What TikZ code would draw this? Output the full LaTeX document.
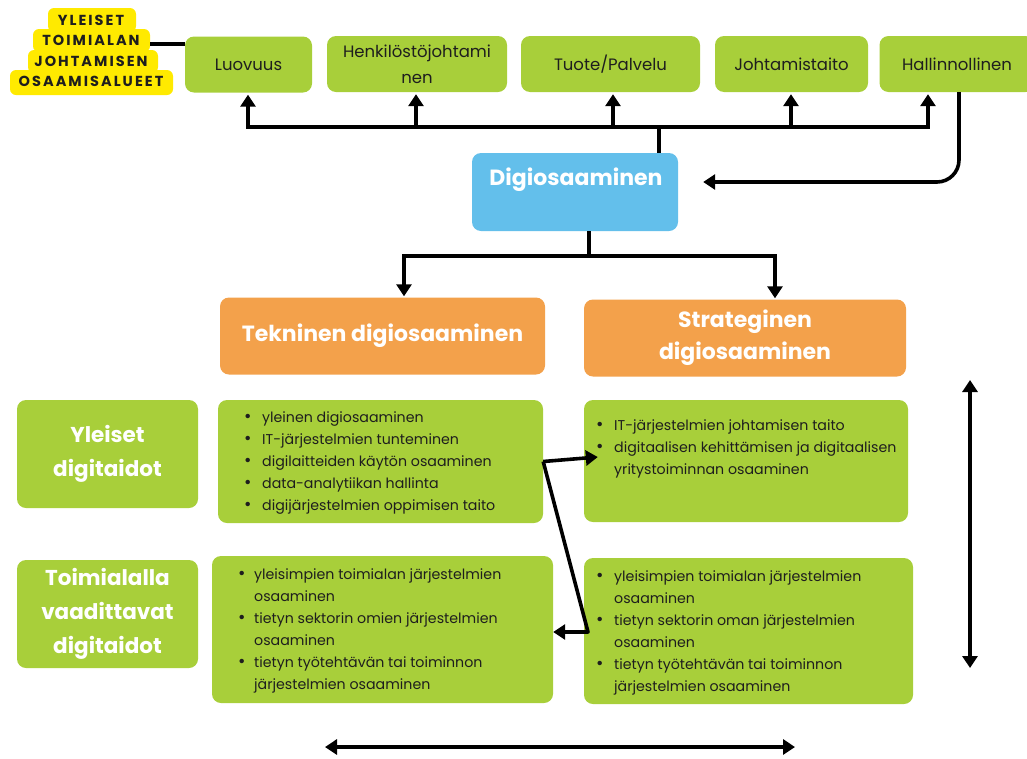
\documentclass[tikz,border=0pt]{standalone}
\usepackage{fontspec}
\setmainfont{Poppins}
\usetikzlibrary{arrows.meta}
\definecolor{lgreen}{HTML}{A8CF3A}
\definecolor{lblue}{HTML}{63BFEB}
\definecolor{lorange}{HTML}{F3A14B}
\definecolor{lyellow}{HTML}{FFEA00}
\definecolor{ink}{HTML}{1E1E1E}
\newcommand{\bul}{\raisebox{-0.8pt}{\fontsize{18}{22}\selectfont\textbullet}}
\begin{document}
\begin{tikzpicture}[x=1pt,y=-1pt,
 box/.style={rounded corners=9pt, inner sep=0pt, draw=none},
 gbox/.style={box, fill=lgreen},
 topbox/.style={gbox, text=ink, font=\fontsize{16.5}{26}\selectfont, align=center, minimum height=56pt},
 head/.style={box, fill=lorange, text=white, font=\bfseries\fontsize{22}{32}\selectfont, align=center, minimum height=77pt},
 side/.style={gbox, text=white, font=\bfseries\fontsize{21.5}{34}\selectfont, align=center, minimum width=181pt, minimum height=108pt},
 body/.style={inner sep=0pt, anchor=base west, text=ink, font=\fontsize{14.2}{22}\selectfont},
 ln/.style={line width=3.6pt},
 arr/.style={ln, -{Triangle[width=15pt,length=12pt]}},
 dbl/.style={ln, {Triangle[width=15pt,length=12pt]}-{Triangle[width=15pt,length=12pt]}},
 hl/.style={fill=lyellow, rounded corners=6pt, draw=none},
]
\useasboundingbox (0,0) rectangle (1027,758);
\clip (0,0) rectangle (1027,758);

% yellow label
\fill[hl] (48,8) rectangle (136,32);
\fill[hl] (33,29) rectangle (150,52);
\fill[hl] (28,50) rectangle (158,73);
\fill[hl] (10,70) rectangle (173,95);
\node[font=\bfseries\fontsize{14.5}{20.3}\selectfont\addfontfeature{LetterSpace=14}, align=center, text=ink, inner sep=0pt] (yl) at (91,51) {YLEISET\\TOIMIALAN\\JOHTAMISEN\\OSAAMISALUEET};

% top boxes
\node[topbox, minimum width=127pt] (luovuus) at (248.5,64.5) {Luovuus};
\node[topbox, minimum width=180pt] (henk) at (417,64) {Henkilöstöjohtami\\nen};
\node[topbox, minimum width=179pt] (tuote) at (610.5,64) {Tuote/Palvelu};
\node[topbox, minimum width=153pt] (johto) at (791.5,64) {Johtamistaito};
\node[topbox, minimum width=155pt] (hall) at (957,64) {Hallinnollinen};

% central box
\node[box, fill=lblue, minimum width=206pt, minimum height=78pt] (digi) at (575,192) {};
\node[text=white, font=\bfseries\fontsize{22}{26}\selectfont, inner sep=0pt] (digit) at (576,180) {Digiosaaminen};

% orange heads
\node[head, minimum width=325pt] (tek) at (382.5,336) {Tekninen digiosaaminen};
\node[head, minimum width=322pt] (strat) at (745,338) {Strateginen\\digiosaaminen};

% side boxes
\node[side] (yleiset) at (107.5,454) {Yleiset\\digitaidot};
\node[side] (toimi) at (107.5,614) {Toimialalla\\vaadittavat\\digitaidot};

% content boxes
\node[gbox, minimum width=325pt, minimum height=123pt] (bA) at (380.5,461.5) {};
\node[gbox, minimum width=324pt, minimum height=122pt] (bB) at (746,461) {};
\node[gbox, minimum width=341pt, minimum height=147pt] (bC) at (382.5,629.5) {};
\node[gbox, minimum width=329pt, minimum height=146pt] (bD) at (748.5,631) {};

\node[body] (tA) at (244,422) {\begin{tabular}[t]{@{}p{18pt}@{}l@{}}
\bul & yleinen digiosaaminen\\
\bul & IT-järjestelmien tunteminen\\
\bul & digilaitteiden käytön osaaminen\\
\bul & data-analytiikan hallinta\\
\bul & digijärjestelmien oppimisen taito
\end{tabular}};
\node[body] (tB) at (596,430) {\begin{tabular}[t]{@{}p{18pt}@{}l@{}}
\bul & IT-järjestelmien johtamisen taito\\
\bul & digitaalisen kehittämisen ja digitaalisen\\
 & yritystoiminnan osaaminen
\end{tabular}};
\node[body] (tC) at (238,579) {\begin{tabular}[t]{@{}p{16pt}@{}l@{}}
\bul & yleisimpien toimialan järjestelmien\\
 & osaaminen\\
\bul & tietyn sektorin omien järjestelmien\\
 & osaaminen\\
\bul & tietyn työtehtävän tai toiminnon\\
 & järjestelmien osaaminen
\end{tabular}};
\node[body] (tD) at (596,581) {\begin{tabular}[t]{@{}p{18pt}@{}l@{}}
\bul & yleisimpien toimialan järjestelmien\\
 & osaaminen\\
\bul & tietyn sektorin oman järjestelmien\\
 & osaaminen\\
\bul & tietyn työtehtävän tai toiminnon\\
 & järjestelmien osaaminen
\end{tabular}};

% connectors
\coordinate (ylc) at (150,44);
\draw[ln] (ylc) -- (luovuus.west |- ylc);

\coordinate (bl) at (248,127);
\coordinate (br) at (928,127);
\coordinate (jt) at (659,127);
\draw[ln] (jt) -- (jt |- digi.north);
\draw[ln, line cap=butt] ([xshift=-1.8pt]bl) -- ([xshift=1.8pt]br);
\draw[arr, shorten >=2pt] (bl) -- (luovuus.south -| bl);
\draw[arr, shorten >=2pt] (416,127) -- (henk.south -| 416,0);
\draw[arr, shorten >=2pt] (613,127) -- (tuote.south -| 613,0);
\draw[arr, shorten >=2pt] (791,127) -- (johto.south -| 791,0);
\draw[arr, shorten >=2pt] (br) -- (hall.south -| br);

\draw[arr, rounded corners=22pt, shorten >=25pt] (hall.south -| 959,0) |- (digi.east |- 0,182);

\coordinate (jb) at (589,256);
\draw[ln] (digi.south -| jb) -- (jb);
\draw[arr, shorten >=1pt] (jb) -| (tek.north -| 404,0);
\draw[arr, shorten >=1pt] (jb) -| (strat.north -| 775,0);

\coordinate (mk) at (588,632);
\draw[arr] (bA.east) -- ([xshift=14pt,yshift=4pt]bB.west);
\draw[arr, line join=round] (bA.east) -- (mk) -- (bC.east |- mk);

\coordinate (v1) at (970,380);
\coordinate (v2) at (970,668);
\draw[dbl] (v1) -- (v2);
\coordinate (h1) at (325,747);
\coordinate (h2) at (795,747);
\draw[dbl] (h1) -- (h2);
\end{tikzpicture}
\end{document}
